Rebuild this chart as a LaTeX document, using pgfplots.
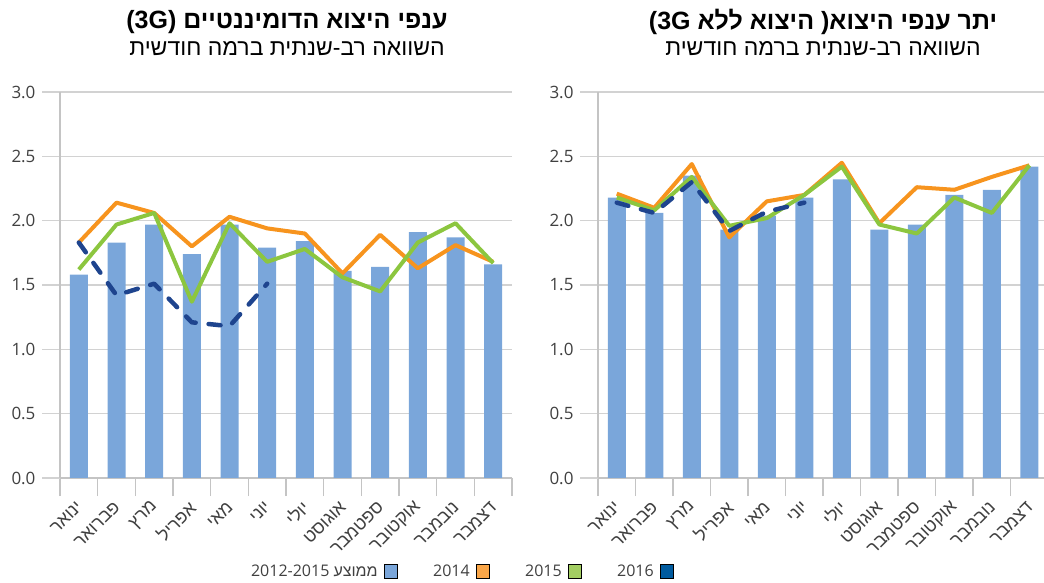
\documentclass[border=0pt]{standalone}
\usepackage{pgfplots}
\usepackage{pgfplotstable}
\pgfplotsset{compat=1.18}
\usepackage{fontspec}
\setmainfont{Open Sans}
\newfontfamily\heb[Script=Hebrew]{Liberation Sans}
\TeXXeTstate=1

\definecolor{barblue}{RGB}{122,166,218}
\definecolor{line14}{RGB}{247,148,30}
\definecolor{line15}{RGB}{140,198,63}
\definecolor{line16}{RGB}{30,68,142}
\definecolor{leg14}{RGB}{250,166,72}
\definecolor{leg15}{RGB}{163,206,98}
\definecolor{leg16}{RGB}{0,91,159}
\definecolor{gridgray}{RGB}{210,210,210}
\definecolor{axisgray}{RGB}{196,196,196}
\definecolor{txtgray}{RGB}{64,64,64}

% left: dominant export branches (3G)
\pgfplotstableread{
x avg y14 y15
0 1.58 1.83 1.62
1 1.83 2.14 1.97
2 1.97 2.06 2.06
3 1.74 1.80 1.37
4 1.97 2.03 1.98
5 1.79 1.94 1.68
6 1.84 1.90 1.78
7 1.61 1.59 1.56
8 1.64 1.89 1.45
9 1.91 1.63 1.83
10 1.87 1.81 1.98
11 1.66 1.68 1.67
}\leftdata
\pgfplotstableread{
x y16
0 1.83
1 1.42
2 1.51
3 1.21
4 1.18
5 1.51
}\leftnew

% right: other export branches
\pgfplotstableread{
x avg y14 y15
0 2.18 2.21 2.18
1 2.06 2.10 2.08
2 2.35 2.44 2.34
3 1.93 1.87 1.96
4 2.04 2.15 2.02
5 2.18 2.20 2.20
6 2.32 2.45 2.42
7 1.93 1.98 1.97
8 1.97 2.26 1.90
9 2.20 2.24 2.18
10 2.24 2.34 2.06
11 2.42 2.43 2.43
}\rightdata
\pgfplotstableread{
x y16
0 2.14
1 2.06
2 2.30
3 1.92
4 2.07
5 2.14
}\rightnew

\pgfplotsset{
  panel/.style={
    scale only axis, height=386pt,
    xmin=-0.5, ymin=0, ymax=3,
    axis x line*=bottom, axis y line*=left,
    axis line style={axisgray, line width=1.5pt},
    ytick={0,0.5,1,1.5,2,2.5,3},
    ticklabel style={text=txtgray, font=\fontsize{17pt}{19pt}\selectfont},
    yticklabel style={xshift=-3pt, /pgf/number format/.cd, fixed, fixed zerofill, precision=1, assume math mode=true},
    tick align=outside,
    major tick length=18pt,
    minor tick length=18pt,
    ytick style={draw=gridgray, line width=1.5pt},
    major x tick style={draw=none},
    minor xtick={-0.5,0.5,...,11.5},
    minor x tick style={draw=axisgray, line width=1.5pt},
    ymajorgrids, grid style={gridgray, line width=1.5pt},
    xtick={0,...,11},
    xticklabels={ינואר,פברואר,מרץ,אפריל,מאי,יוני,יולי,אוגוסט,ספטמבר,אוקטובר,נובמבר,דצמבר},
    xticklabel style={font=\heb\fontsize{18pt}{20pt}\selectfont, yshift=-6pt, xshift=3pt, rotate=45, anchor=east},
  },
  barplot/.style={ybar, bar width=18pt, fill=barblue, draw=none},
  l14/.style={line14, line width=4pt, line join=round},
  l15/.style={line15, line width=4pt, line join=round},
  l16/.style={line16, line width=4.5pt, line cap=round, line join=round, dash pattern=on 12pt off 13pt},
}

\begin{document}
\begin{tikzpicture}
\useasboundingbox (0,0) rectangle (1044pt,583pt);

\begin{axis}[panel, width=452pt, xmax=11.5, at={(60pt,105pt)}, anchor=south west]
\addplot[barplot] table[x=x, y=avg] {\leftdata};
\addplot[l14] table[x=x, y=y14] {\leftdata};
\addplot[l15] table[x=x, y=y15] {\leftdata};
\addplot[l16] table[x=x, y=y16] {\leftnew};
\end{axis}

\begin{axis}[panel, width=446pt, xmax=11.39, at={(598pt,105pt)}, anchor=south west,
  legend columns=4, legend plot pos=right,
  legend image code/.code={\fill[#1] (0pt,-7pt) rectangle (13pt,7pt);},
  legend style={draw=none, fill=none, at={(-0.307,-0.241)}, anchor=center,
    font=\fontsize{16pt}{18pt}\selectfont, text=txtgray, column sep=4pt,
    /tikz/every even column/.append style={column sep=34pt}}]
\addplot[barplot, forget plot] table[x=x, y=avg] {\rightdata};
\addplot[l14, forget plot] table[x=x, y=y14] {\rightdata};
\addplot[l15, forget plot] table[x=x, y=y15] {\rightdata};
\addplot[l16, forget plot] table[x=x, y=y16] {\rightnew};
\addlegendimage{fill=barblue}
\addlegendentry{\beginR{\heb ממוצע} 2012-2015\endR}
\addlegendimage{fill=leg14}
\addlegendentry{2014}
\addlegendimage{fill=leg15}
\addlegendentry{2015}
\addlegendimage{fill=leg16}
\addlegendentry{2016}
\end{axis}

\node[font=\heb\bfseries\fontsize{25pt}{28pt}\selectfont] at (287pt,561pt) {\beginR ענפי היצוא הדומיננטיים (3G)\endR};
\node[font=\heb\fontsize{23pt}{26pt}\selectfont] at (287pt,534pt) {\beginR השוואה רב-שנתית ברמה חודשית\endR};
\node[font=\heb\bfseries\fontsize{25pt}{28pt}\selectfont] at (823pt,561pt) {\beginR יתר ענפי היצוא\kern0pt( היצוא ללא (3G\endR};
\node[font=\heb\fontsize{23pt}{26pt}\selectfont] at (823pt,534pt) {\beginR השוואה רב-שנתית ברמה חודשית\endR};
\end{tikzpicture}
\end{document}
